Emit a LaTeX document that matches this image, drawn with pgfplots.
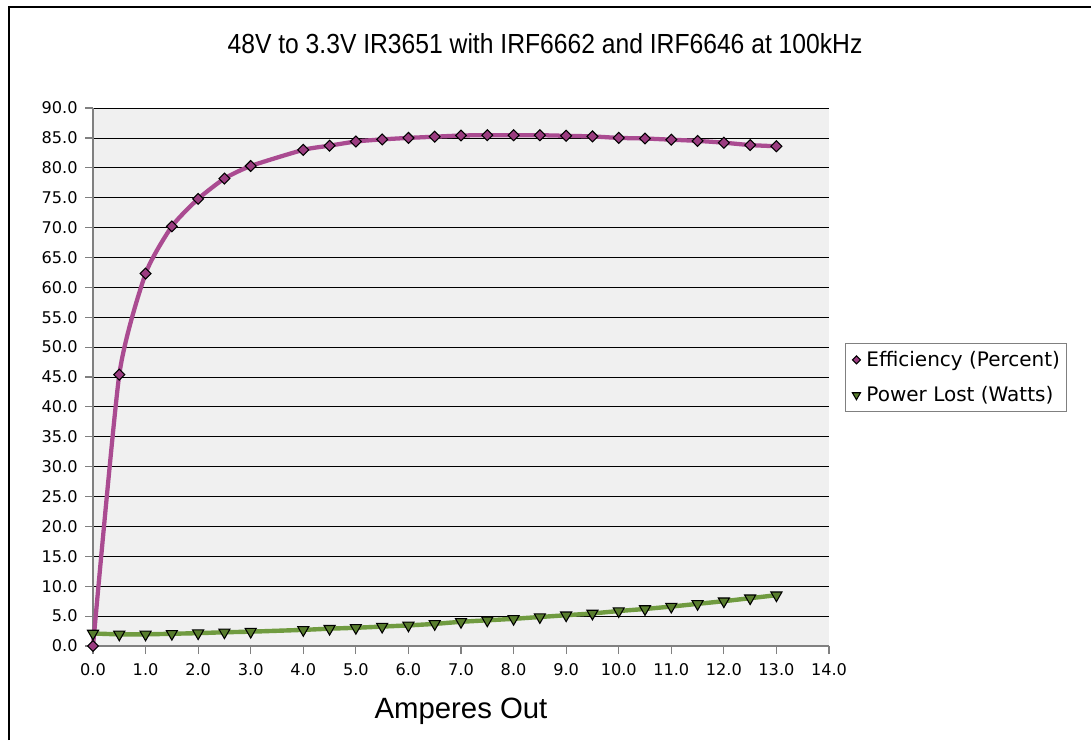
\documentclass[border=0pt]{standalone}
\usepackage{pgfplots}
\usepackage{pgfplotstable}
\pgfplotsset{compat=1.18}
\usepackage{fontspec}
\setmainfont{Liberation Sans}
\newfontfamily\tahoma{DejaVu Sans}

\definecolor{effline}{RGB}{170,75,145}
\definecolor{efffill}{RGB}{155,60,128}
\definecolor{pwrline}{RGB}{112,155,64}
\definecolor{pwrfill}{RGB}{88,125,45}
\definecolor{plotbg}{RGB}{240,240,240}

\pgfplotstableread{
amps eff   pwr
0.0  0.0   2.10
0.5  45.4  1.95
1.0  62.3  1.95
1.5  70.2  2.05
2.0  74.8  2.15
2.5  78.2  2.30
3.0  80.3  2.40
4.0  83.0  2.70
4.5  83.7  2.90
5.0  84.4  3.05
5.5  84.75 3.25
6.0  85.0  3.45
6.5  85.2  3.70
7.0  85.4  4.05
7.5  85.45 4.30
8.0  85.45 4.55
8.5  85.45 4.85
9.0  85.35 5.15
9.5  85.25 5.45
10.0 85.0  5.85
10.5 84.9  6.20
11.0 84.7  6.60
11.5 84.5  7.05
12.0 84.2  7.50
12.5 83.8  8.00
13.0 83.6  8.50
}\datatable

\begin{document}
\begin{tikzpicture}
\path[use as bounding box] (0,0) rectangle (818.25pt,555pt);
\draw[line width=1.5pt] (6.75pt,0) -- (6.75pt,549.75pt) -- (818.25pt,549.75pt);
\node[anchor=base, font=\fontsize{18.5}{22}\selectfont] at (408.75pt,515pt)
  {\scalebox{1}[1.12]{48V to 3.3V IR3651 with IRF6662 and IRF6646 at 100kHz}};
\begin{axis}[
  at={(69.75pt,70.5pt)}, anchor=south west,
  scale only axis, width=552pt, height=403.5pt,
  xmin=0, xmax=14, ymin=0, ymax=90,
  xtick={0,1,...,14}, ytick={0,5,...,90},
  axis x line*=bottom, axis y line*=left,
  axis line style={draw=gray, line width=0.9pt, -},
  axis background/.style={fill=plotbg},
  ymajorgrids, major grid style={black, line width=0.6pt},
  tick align=outside, major tick length=6pt,
  tick style={gray, line width=0.9pt},
  tick label style={font=\tahoma\fontsize{12.1}{14}\selectfont},
  xticklabel style={yshift=-3.5pt, /pgf/number format/fixed, /pgf/number format/fixed zerofill,
    /pgf/number format/precision=1, /pgf/number format/assume math mode=true},
  yticklabel style={xshift=-2pt, /pgf/number format/fixed, /pgf/number format/fixed zerofill,
    /pgf/number format/precision=1, /pgf/number format/assume math mode=true},
  xlabel={Amperes Out},
  x label style={font=\fontsize{22}{26}\selectfont, at={(axis description cs:0.5,0)},
    anchor=base, yshift=-54pt},
  clip=false,
  reverse legend,
  legend cell align=left,
  legend image code/.code={\path (0pt,0pt) (10.5pt,0pt);
    \draw[#1] plot coordinates {(5.2pt,0pt)};},
  legend style={at={(1.0217,0.5632)}, anchor=north west, draw=gray, fill=white,
    font=\tahoma\fontsize{15}{18}\selectfont, row sep=9.5pt, inner ysep=4pt},
]
\addplot[pwrline, line width=3.3pt, smooth, tension=0.35, forget plot]
  table[x=amps, y=pwr]{\datatable};
\addplot[only marks, mark=triangle*, mark size=4.8pt,
  mark options={rotate=180, fill=pwrfill, draw=black, line width=0.8pt},
  legend image post style={mark size=3.5pt}]
  table[x=amps, y=pwr]{\datatable};
\addlegendentry{Power Lost (Watts)}
\addplot[effline, line width=3.2pt, smooth, tension=0.35, forget plot]
  table[x=amps, y=eff]{\datatable};
\addplot[only marks, mark=square*, mark size=2.9pt,
  mark options={rotate=45, fill=efffill, draw=black, line width=0.8pt},
  legend image post style={mark size=2.1pt}]
  table[x=amps, y=eff]{\datatable};
\addlegendentry{Efficiency (Percent)}
\end{axis}
\end{tikzpicture}
\end{document}
